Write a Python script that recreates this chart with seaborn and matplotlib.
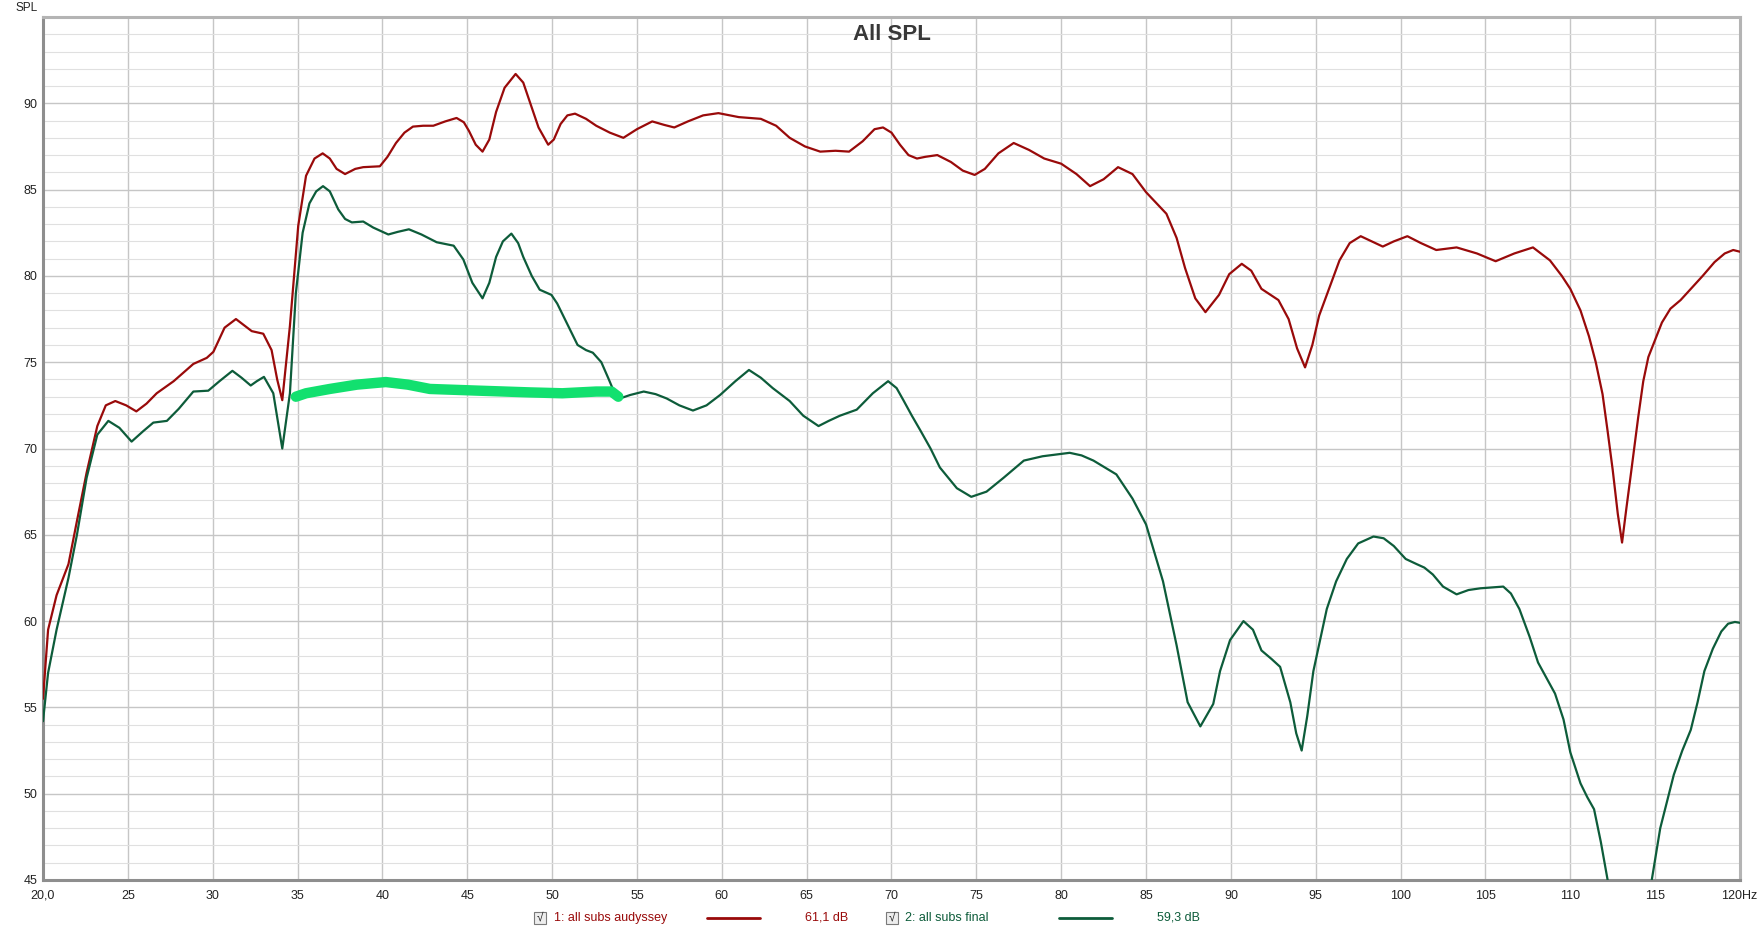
import matplotlib
matplotlib.use("Agg")
import matplotlib.pyplot as plt
from matplotlib.patches import Rectangle
from matplotlib.lines import Line2D
import seaborn as sns
import pandas as pd

# --- data ---
freq_audyssey = [20.0, 20.3, 20.8, 21.5, 22.0, 22.57, 23.2, 23.7, 24.26, 24.9, 25.5, 26.1, 26.7, 27.7,
                 28.86, 29.65, 30.04, 30.7, 31.37, 31.9, 32.3, 32.98, 33.47, 33.8, 34.1, 34.55, 35.04,
                 35.5, 36.0, 36.48, 36.9, 37.3, 37.8, 38.4, 38.87, 39.85, 40.3, 40.8, 41.3, 41.8, 42.4,
                 43.0, 43.7, 44.37, 44.8, 45.1, 45.5, 45.9, 46.3, 46.7, 47.2, 47.85, 48.3, 48.7, 49.2,
                 49.77, 50.1, 50.5, 50.9, 51.35, 52.0, 52.6, 53.4, 54.2, 55.0, 55.9, 56.6, 57.2, 58.0,
                 58.9, 59.8, 61.0, 62.3, 63.2, 64.0, 64.9, 65.8, 66.7, 67.5, 68.3, 69.0, 69.5, 70.0,
                 70.5, 71.0, 71.5, 72.0, 72.7, 73.5, 74.2, 74.9, 75.5, 76.3, 77.2, 78.1, 79.0, 80.0,
                 80.9, 81.7, 82.5, 83.35, 84.2, 85.0, 86.2, 86.8, 87.3, 87.9, 88.5, 89.3, 89.9, 90.64,
                 91.2, 91.8, 92.8, 93.4, 93.9, 94.37, 94.8, 95.2, 95.65, 96.4, 97.0, 97.65, 98.3, 98.95,
                 99.6, 100.4, 101.2, 102.1, 103.3, 104.5, 105.6, 106.7, 107.8, 108.8, 109.5, 110.0,
                 110.6, 111.1, 111.5, 111.9, 112.2, 112.5, 112.8, 113.05, 113.3, 113.6, 114.0, 114.3,
                 114.6, 115.0, 115.4, 115.9, 116.5, 117.1, 117.8, 118.5, 119.1, 119.6, 120.0]
spl_audyssey = [55.5, 59.5, 61.5, 63.3, 65.8, 68.6, 71.3, 72.5, 72.75, 72.5, 72.15, 72.6, 73.2, 73.9,
                74.9, 75.25, 75.6, 77.0, 77.5, 77.1, 76.8, 76.65, 75.7, 74.0, 72.8, 77.1, 82.9,
                85.8, 86.8, 87.1, 86.8, 86.2, 85.9, 86.2, 86.3, 86.35, 86.9, 87.7, 88.3, 88.65, 88.7,
                88.7, 88.95, 89.15, 88.9, 88.4, 87.6, 87.2, 87.9, 89.5, 90.9, 91.7, 91.2, 90.05, 88.6,
                87.6, 87.9, 88.8, 89.3, 89.4, 89.1, 88.7, 88.3, 88.0, 88.5, 88.95, 88.75, 88.6, 88.95,
                89.3, 89.43, 89.2, 89.1, 88.7, 88.0, 87.5, 87.2, 87.25, 87.2, 87.8, 88.5, 88.6, 88.3,
                87.6, 87.0, 86.8, 86.9, 87.0, 86.6, 86.1, 85.85, 86.2, 87.1, 87.7, 87.3, 86.8, 86.5,
                85.9, 85.2, 85.6, 86.3, 85.9, 84.85, 83.6, 82.2, 80.45, 78.7, 77.9, 78.9, 80.1, 80.7,
                80.3, 79.25, 78.6, 77.5, 75.8, 74.7, 76.0, 77.7, 78.9, 80.9, 81.9, 82.3, 82.0, 81.7,
                82.0, 82.3, 81.9, 81.5, 81.65, 81.3, 80.85, 81.3, 81.65, 80.9, 80.0, 79.25,
                78.0, 76.5, 75.0, 73.15, 71.0, 68.75, 66.2, 64.55, 66.5, 68.75, 71.8, 73.9,
                75.3, 76.3, 77.3, 78.1, 78.6, 79.25, 80.0, 80.8, 81.3, 81.5, 81.4]

freq_final = [20.0, 20.3, 20.8, 21.5, 22.0, 22.57, 23.2, 23.85, 24.5, 25.22, 25.9, 26.5, 27.3, 28.0,
              28.86, 29.74, 30.4, 31.16, 31.7, 32.24, 32.6, 33.02, 33.57, 33.85, 34.1, 34.55, 34.9,
              35.3, 35.7, 36.1, 36.5, 36.9, 37.4, 37.8, 38.2, 38.87, 39.46, 40.35, 40.9, 41.56, 42.3,
              43.2, 44.2, 44.77, 45.3, 45.9, 46.3, 46.7, 47.1, 47.6, 48.0, 48.3, 48.8, 49.27, 49.96,
              50.3, 50.65, 51.1, 51.5, 52.0, 52.4, 52.9, 53.3, 53.6, 54.0, 54.6, 55.4, 56.1, 56.75,
              57.5, 58.3, 59.1, 59.9, 60.8, 61.6, 62.3, 63.0, 64.0, 64.8, 65.7, 66.3, 66.96, 67.95,
              68.9, 69.8, 70.3, 70.7, 71.2, 71.7, 72.3, 72.85, 73.85, 74.7, 75.6, 76.6, 77.8, 78.9,
              80.5, 81.2, 81.9, 83.25, 84.2, 85.0, 86.0, 86.8, 87.45, 88.2, 88.96, 89.36, 89.95,
              90.74, 91.3, 91.8, 92.4, 92.9, 93.5, 93.85, 94.17, 94.5, 94.86, 95.65, 96.2, 96.83,
              97.5, 98.4, 99.0, 99.6, 100.3, 100.95, 101.4, 101.9, 102.5, 103.3, 104.0, 104.7,
              105.4, 106.05, 106.5, 107.0, 107.6, 108.1, 108.6, 109.1, 109.6, 110.0, 110.6, 111.0,
              111.4, 111.8, 112.2, 112.8, 113.5, 114.2, 114.8, 115.3, 116.1, 116.6, 117.1, 117.5,
              117.9, 118.4, 118.9, 119.3, 119.7, 120.0]
spl_final = [54.2, 57.0, 59.5, 62.5, 65.0, 68.3, 70.8, 71.6, 71.2, 70.4, 71.0, 71.5, 71.6, 72.3,
             73.3, 73.35, 73.9, 74.5, 74.1, 73.65, 73.9, 74.15, 73.2, 71.5, 70.0, 73.2, 79.0,
             82.5, 84.2, 84.9, 85.2, 84.9, 83.85, 83.3, 83.1, 83.15, 82.8, 82.4, 82.55, 82.7, 82.4,
             81.95, 81.75, 80.95, 79.6, 78.7, 79.6, 81.1, 82.0, 82.45, 81.9, 81.1, 80.0, 79.2, 78.9,
             78.4, 77.7, 76.8, 76.0, 75.7, 75.55, 75.0, 74.1, 73.4, 72.9, 73.1, 73.3, 73.15, 72.9,
             72.5, 72.2, 72.5, 73.1, 73.9, 74.55, 74.1, 73.5, 72.75, 71.9, 71.3, 71.6, 71.9, 72.25,
             73.2, 73.9, 73.5, 72.8, 71.9, 71.05, 70.0, 68.9, 67.7, 67.2, 67.5, 68.3, 69.3, 69.55,
             69.75, 69.6, 69.3, 68.5, 67.1, 65.6, 62.3, 58.6, 55.3, 53.9, 55.2, 57.1, 58.9,
             60.0, 59.5, 58.3, 57.8, 57.35, 55.3, 53.5, 52.5, 54.5, 57.1, 60.7, 62.3, 63.6,
             64.5, 64.9, 64.8, 64.35, 63.6, 63.3, 63.1, 62.7, 62.0, 61.55, 61.8, 61.9,
             61.95, 62.0, 61.6, 60.7, 59.1, 57.6, 56.7, 55.8, 54.3, 52.4, 50.6, 49.8,
             49.1, 47.2, 45.0, 41.0, 39.5, 41.0, 45.0, 48.0, 51.1, 52.5, 53.7, 55.3,
             57.1, 58.4, 59.4, 59.85, 59.95, 59.9]

freq_marker = [34.9, 35.5, 36.9, 38.5, 40.2, 41.5, 42.8, 45.7, 48.7, 50.6, 52.6, 53.5, 53.9]
spl_marker = [73.0, 73.2, 73.45, 73.7, 73.85, 73.7, 73.45, 73.35, 73.25, 73.2, 73.3, 73.3, 73.0]

x_ticks = list(range(20, 121, 5))
x_labels = ["20,0"] + [str(t) for t in x_ticks[1:-1]] + [""]
last_x_label = "120Hz"
y_ticks = list(range(45, 91, 5))

series_names = ["1: all subs audyssey", "2: all subs final"]
series_levels = ["61,1 dB", "59,3 dB"]
red = "#990a0a"
green = "#0d5c3a"
marker_green = "#12e06f"

sns.set_theme(style="white")
plt.rcParams["font.family"] = ["Liberation Sans", "DejaVu Sans"]

fig = plt.figure(figsize=(17.61, 9.32), dpi=100)
ax = fig.add_axes([43 / 1761, 1 - 880 / 932, (1740 - 43) / 1761, (880 - 17) / 932])

df_a = pd.DataFrame({"f": freq_audyssey, "spl": spl_audyssey})
df_f = pd.DataFrame({"f": freq_final, "spl": spl_final})
df_m = pd.DataFrame({"f": freq_marker, "spl": spl_marker})

line_kw = dict(sort=False, zorder=3, solid_joinstyle="round", solid_capstyle="round")
sns.lineplot(data=df_a, x="f", y="spl", ax=ax, color=red, linewidth=1.6, **line_kw)
sns.lineplot(data=df_f, x="f", y="spl", ax=ax, color=green, linewidth=1.6, **line_kw)
sns.lineplot(data=df_m, x="f", y="spl", ax=ax, color=marker_green, linewidth=7.5,
             sort=False, zorder=4, solid_capstyle="round", solid_joinstyle="round")

ax.set_xlim(20, 120)
ax.set_ylim(45, 95)
ax.set_xticks(x_ticks)
ax.set_xticklabels(x_labels)
ax.set_yticks(y_ticks)
ax.set_yticks(range(45, 96), minor=True)
ax.grid(True, which="major", color="#c6c6c6", linewidth=1.0)
ax.grid(True, which="minor", axis="y", color="#e0e0e0", linewidth=0.8)
ax.set_axisbelow(True)
ax.tick_params(axis="both", which="both", length=0, labelsize=9, colors="#222222")
ax.tick_params(axis="x", pad=7)
ax.tick_params(axis="y", pad=4)
ax.set_xlabel("")
ax.set_ylabel("")

for side in ["top", "right"]:
    ax.spines[side].set_color("#b4b4b4")
    ax.spines[side].set_linewidth(2.2)
for side in ["left", "bottom"]:
    ax.spines[side].set_color("#8e8e8e")
    ax.spines[side].set_linewidth(2.2)

ax.text(0.5, 0.98, "All SPL", transform=ax.transAxes, ha="center", va="center",
        fontsize=16, fontweight="bold", color="#383838")
fig.text(15 / 1761, 1 - 8 / 932, "SPL", ha="left", va="center", fontsize=8.5, color="#222222")
ax.annotate(last_x_label, xy=(1757 / 1761, 0), xycoords=("figure fraction", "axes fraction"),
            xytext=(0, -7), textcoords="offset points", ha="right", va="top",
            fontsize=9, color="#222222")

# legend row at the bottom
ly = 1 - 918 / 932
legend_x = [(540, 554, 707, 760, 805), (892, 905, 1059, 1112, 1157)]
for (bx, tx, l0, l1, vx), name, level, col in zip(legend_x, series_names, series_levels, [red, green]):
    fig.patches.append(Rectangle((bx / 1761 - 6 / 1761, ly - 6 / 932), 12 / 1761, 12 / 932,
                                 transform=fig.transFigure, facecolor="#ededed",
                                 edgecolor="#7a7a7a", linewidth=0.8))
    fig.text(bx / 1761, ly, "√", ha="center", va="center", fontsize=8.5, color="#222222")
    fig.text(tx / 1761, ly, name, ha="left", va="center", fontsize=9, color=col)
    fig.lines.append(Line2D([l0 / 1761, l1 / 1761], [ly, ly], transform=fig.transFigure,
                            color=col, linewidth=2.0))
    fig.text(vx / 1761, ly, level, ha="left", va="center", fontsize=9, color=col)

fig.savefig("out.png", dpi=100, facecolor="white")
